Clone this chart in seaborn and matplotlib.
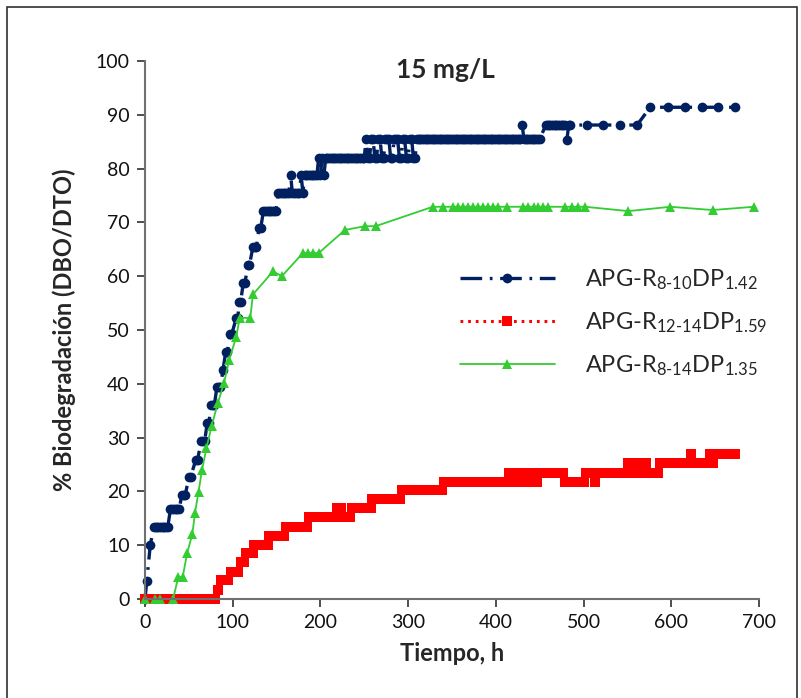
import numpy as np
import pandas as pd
import matplotlib
matplotlib.use("Agg")
import matplotlib.pyplot as plt
import seaborn as sns
from matplotlib.patches import Rectangle

# ---- APG-R8-10 DP1.42 : level (%) held over readings taken every 2 h ----
apg810_from = [0, 2, 6, 10, 29, 42, 50, 58, 64, 71, 75, 82, 89, 92, 97, 104, 107, 112, 117, 123,
               130, 135, 152, 166, 168, 178, 180, 182, 198, 200, 202, 204, 206, 252, 254, 258, 262,
               266, 270, 274, 280, 284, 290, 294, 298, 302, 306, 310, 312, 430, 432, 457, 481, 483,
               504, 522, 541, 561, 576, 596, 616, 635, 653, 673]
apg810_to = [0, 2, 6, 27, 39, 46, 53, 61, 68, 73, 79, 86, 90, 94, 99, 106, 109, 114, 119, 127,
             132, 149, 164, 166, 176, 178, 180, 196, 198, 200, 202, 204, 250, 252, 256, 260, 264,
             268, 272, 278, 282, 288, 292, 296, 300, 304, 308, 310, 428, 430, 451, 479, 481, 485,
             504, 522, 541, 561, 576, 596, 616, 635, 653, 673]
apg810_level = [0, 3.3, 10.0, 13.4, 16.7, 19.4, 22.7, 25.9, 29.4, 32.7, 36.0, 39.4, 42.6, 45.9, 49.3,
                52.2, 55.2, 58.7, 62.0, 65.4, 69.0, 72.1, 75.5, 78.8, 75.5, 78.8, 75.5, 78.8, 82.0,
                78.8, 82.0, 78.8, 82.0, 85.5, 82.0, 85.5, 82.0, 85.5, 82.0, 85.5, 82.0, 85.5, 82.0,
                85.5, 82.0, 85.5, 82.0, 85.5, 85.5, 88.1, 85.5, 88.1, 85.3, 88.1,
                88.1, 88.1, 88.1, 88.1, 91.4, 91.4, 91.4, 91.4, 91.4, 91.4]

# ---- APG-R12-14 DP1.59 ----
apg1214_from = [0, 83, 87, 98, 109, 115, 124, 141, 161, 187, 219, 226, 236, 259, 293, 341, 415, 417,
                425, 429, 439, 445, 449, 479, 503, 513, 517, 551, 559, 567, 573, 587, 622, 626,
                644, 646, 651]
apg1214_to = [80, 83, 95, 107, 113, 123, 140, 159, 185, 217, 223, 234, 258, 292, 339, 413, 415, 423,
              427, 437, 443, 447, 477, 501, 507, 513, 549, 557, 565, 571, 585, 620, 622, 642,
              644, 649, 673]
apg1214_level = [0, 1.7, 3.5, 5.0, 6.8, 8.5, 10.1, 11.8, 13.4, 15.2, 16.9, 15.2, 16.9, 18.5, 20.2,
                 21.8, 23.5, 21.8, 23.5, 21.8, 23.5, 21.8, 23.5, 21.8, 23.5, 21.8, 23.5, 25.2,
                 23.5, 25.2, 23.5, 25.2, 26.9, 25.2, 26.9, 25.2, 26.9]

# ---- APG-R8-14 DP1.35 : individual readings ----
apg814_t = [0, 11, 17, 32, 38, 43, 48, 54, 57, 61, 65, 70, 76, 83, 90, 96, 104, 108, 120, 123,
            146, 156, 180, 186, 192, 198, 228, 251, 263, 328, 340, 351, 357, 363, 368, 374, 380,
            385, 391, 397, 402, 413, 431, 437, 443, 448, 454, 460, 479, 487, 494, 502, 551, 599,
            647, 694]
apg814_v = [0, 0, 0, 0, 4.1, 4.1, 8.5, 12.1, 16.0, 19.9, 24.0, 28.0, 32.2, 36.4, 40.1, 44.5, 48.7,
            52.3, 52.2, 56.6, 60.9, 60.0, 64.3, 64.3, 64.3, 64.3, 68.6, 69.3, 69.3, 72.9, 72.9,
            72.9, 72.9, 72.9, 72.9, 72.9, 72.9, 72.9, 72.9, 72.9, 72.9, 72.9, 72.9, 72.9, 72.9,
            72.9, 72.9, 72.9, 72.9, 72.9, 72.9, 72.9, 72.1, 72.9, 72.3, 72.9]

x_ticks = [0, 100, 200, 300, 400, 500, 600, 700]
y_ticks = [0, 10, 20, 30, 40, 50, 60, 70, 80, 90, 100]

labels = [r"APG-R$_{\text{8-10}}$DP$_{\text{1.42}}$",
          r"APG-R$_{\text{12-14}}$DP$_{\text{1.59}}$",
          r"APG-R$_{\text{8-14}}$DP$_{\text{1.35}}$"]


def readings(t_from, t_to, level, step=2):
    """List every reading of a run-length table (level held between t_from and t_to)."""
    t, v = [], []
    for a, b, y in zip(t_from, t_to, level):
        pts = np.arange(a, b + 0.5, step)
        t.extend(pts.tolist())
        v.extend([y] * len(pts))
    return pd.DataFrame({"t": t, "v": v})


blue = readings(apg810_from, apg810_to, apg810_level)
red = readings(apg1214_from, apg1214_to, apg1214_level)
green = pd.DataFrame({"t": apg814_t, "v": apg814_v})

sns.set_style("ticks")
plt.rcParams["font.family"] = ["Lato", "DejaVu Sans"]
plt.rcParams["mathtext.fontset"] = "custom"
plt.rcParams["mathtext.rm"] = "Lato"
plt.rcParams["mathtext.it"] = "Lato:italic"
plt.rcParams["mathtext.bf"] = "Lato:bold"

fig = plt.figure(figsize=(8.01, 6.98), dpi=100)
ax = fig.add_axes([145 / 801, 1 - 599 / 698, 614 / 801, 538 / 698])

navy, red_c, green_c = "#002060", "#FF0000", "#33CC33"

sns.lineplot(data=blue, x="t", y="v", ax=ax, sort=False, estimator=None, color=navy,
             marker="o", markersize=7, markeredgewidth=0, linewidth=2.4,
             linestyle=(0, (6.5, 2.3, 0.8, 2.3)), label=labels[0], clip_on=False)
sns.lineplot(data=red, x="t", y="v", ax=ax, sort=False, estimator=None, color=red_c,
             marker="s", markersize=6.8, markeredgewidth=0, linewidth=2.2,
             linestyle=(0, (0.9, 1.6)), label=labels[1], clip_on=False)
sns.lineplot(data=green, x="t", y="v", ax=ax, sort=False, estimator=None, color=green_c,
             marker="^", markersize=7, markeredgewidth=0, linewidth=1.3,
             label=labels[2], clip_on=False)

ax.set_xlim(0, 700)
ax.set_ylim(0, 100)
ax.set_xticks(x_ticks)
ax.set_yticks(y_ticks)
ax.tick_params(axis="both", labelsize=14, length=6, width=1.3, color="#404040",
               direction="out", labelcolor="#111111", pad=5)
for side in ("top", "right"):
    ax.spines[side].set_visible(False)
for side in ("left", "bottom"):
    ax.spines[side].set_color("#707070")
    ax.spines[side].set_linewidth(1.5)

ax.set_xlabel("Tiempo, h", fontsize=17, fontweight="bold", labelpad=8)
ax.set_ylabel("% Biodegradación (DBO/DTO)", fontsize=17, fontweight="bold", labelpad=14)
ax.text(343, 98.3, "15 mg/L", fontsize=19, fontweight="bold", ha="center", va="center")

leg = ax.legend(loc="center left", bbox_to_anchor=(0.494, 0.513), frameon=False, fontsize=17,
                handlelength=4.0, handletextpad=1.3, labelspacing=0.78, borderpad=0,
                numpoints=1)

fig.patches.append(Rectangle((7 / 801, -0.02), 790 / 801, 1 - 7 / 698 + 0.02,
                             transform=fig.transFigure, fill=False, edgecolor="#303030",
                             linewidth=1.2))

fig.savefig("out.png", dpi=100)
